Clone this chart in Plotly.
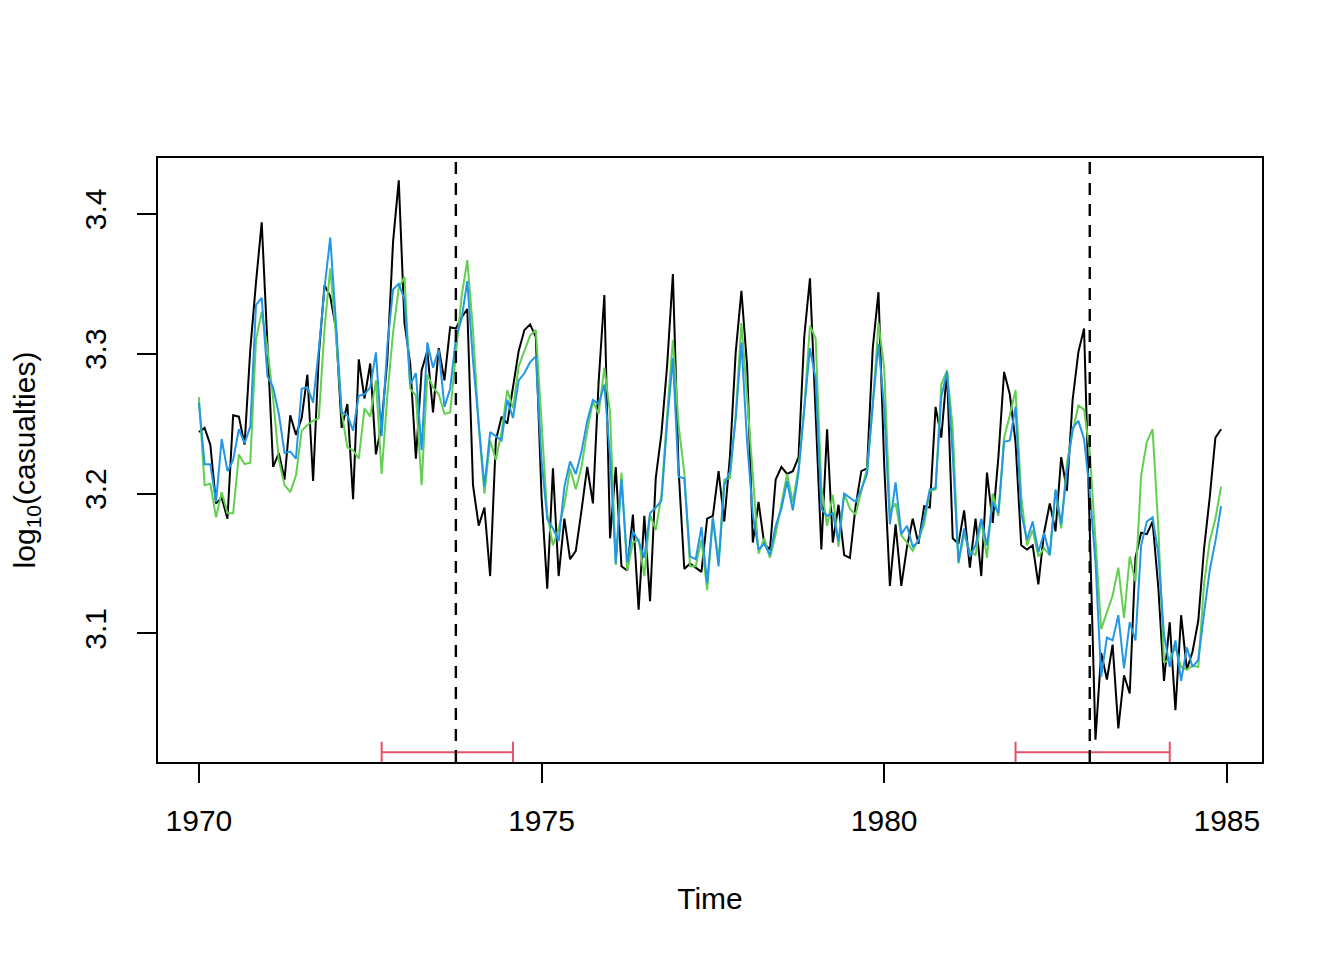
import plotly.graph_objects as go

# monthly series, Jan 1970 .. Dec 1984, one row per year
casualties = [
    3.244, 3.247, 3.235, 3.193, 3.197, 3.182, 3.256, 3.255, 3.235, 3.303, 3.351, 3.394,
    3.307, 3.219, 3.229, 3.210, 3.256, 3.242, 3.254, 3.285, 3.209, 3.299, 3.349, 3.341,
    3.318, 3.247, 3.264, 3.196, 3.296, 3.268, 3.293, 3.228, 3.250, 3.296, 3.380, 3.424,
    3.322, 3.293, 3.225, 3.288, 3.302, 3.258, 3.304, 3.281, 3.319, 3.318, 3.326, 3.332,
    3.206, 3.177, 3.190, 3.141, 3.238, 3.255, 3.250, 3.276, 3.302, 3.317, 3.321, 3.312,
    3.198, 3.132, 3.218, 3.141, 3.182, 3.153, 3.159, 3.188, 3.219, 3.193, 3.280, 3.342,
    3.168, 3.219, 3.148, 3.145, 3.185, 3.117, 3.184, 3.123, 3.211, 3.243, 3.292, 3.357,
    3.217, 3.146, 3.150, 3.147, 3.144, 3.182, 3.184, 3.216, 3.180, 3.227, 3.301, 3.345,
    3.291, 3.165, 3.194, 3.164, 3.160, 3.210, 3.219, 3.214, 3.216, 3.226, 3.312, 3.354,
    3.258, 3.160, 3.246, 3.165, 3.192, 3.156, 3.154, 3.191, 3.216, 3.218, 3.304, 3.344,
    3.221, 3.134, 3.178, 3.134, 3.162, 3.182, 3.164, 3.191, 3.190, 3.262, 3.240, 3.288,
    3.168, 3.164, 3.188, 3.147, 3.182, 3.141, 3.215, 3.179, 3.226, 3.287, 3.271, 3.237,
    3.163, 3.160, 3.163, 3.135, 3.172, 3.193, 3.173, 3.226, 3.202, 3.267, 3.301, 3.318,
    3.174, 3.024, 3.086, 3.067, 3.092, 3.032, 3.070, 3.057, 3.154, 3.172, 3.171, 3.180,
    3.133, 3.066, 3.108, 3.045, 3.113, 3.074, 3.087, 3.109, 3.160, 3.197, 3.240, 3.246,
]

# fitted values, model without breaks
fit_nobreak = [
    3.269, 3.206, 3.207, 3.183, 3.201, 3.186, 3.186, 3.228, 3.221, 3.222, 3.310, 3.330,
    3.304, 3.268, 3.224, 3.206, 3.201, 3.213, 3.245, 3.249, 3.252, 3.254, 3.318, 3.361,
    3.313, 3.258, 3.233, 3.231, 3.225, 3.261, 3.255, 3.281, 3.214, 3.270, 3.315, 3.347,
    3.355, 3.275, 3.270, 3.206, 3.285, 3.276, 3.271, 3.257, 3.258, 3.298, 3.341, 3.367,
    3.317, 3.248, 3.200, 3.238, 3.224, 3.244, 3.274, 3.261, 3.291, 3.302, 3.313, 3.317,
    3.249, 3.185, 3.163, 3.175, 3.192, 3.218, 3.203, 3.219, 3.245, 3.266, 3.257, 3.290,
    3.258, 3.149, 3.215, 3.145, 3.165, 3.167, 3.141, 3.185, 3.174, 3.199, 3.257, 3.310,
    3.249, 3.215, 3.148, 3.148, 3.167, 3.131, 3.182, 3.152, 3.210, 3.211, 3.256, 3.322,
    3.269, 3.210, 3.157, 3.168, 3.154, 3.171, 3.194, 3.214, 3.194, 3.218, 3.261, 3.320,
    3.311, 3.205, 3.177, 3.199, 3.162, 3.200, 3.189, 3.185, 3.202, 3.218, 3.263, 3.322,
    3.290, 3.187, 3.193, 3.170, 3.165, 3.159, 3.167, 3.178, 3.202, 3.203, 3.278, 3.288,
    3.247, 3.150, 3.171, 3.159, 3.156, 3.181, 3.154, 3.200, 3.184, 3.240, 3.256, 3.274,
    3.198, 3.163, 3.174, 3.155, 3.161, 3.156, 3.202, 3.175, 3.222, 3.244, 3.263, 3.260,
    3.230, 3.166, 3.103, 3.115, 3.127, 3.147, 3.111, 3.155, 3.137, 3.213, 3.237, 3.246,
    3.176, 3.079, 3.082, 3.090, 3.076, 3.074, 3.077, 3.076, 3.135, 3.166, 3.182, 3.205,
]

# fitted values, segmented model (2 breaks)
fit_breaks = [
    3.265, 3.221, 3.221, 3.194, 3.239, 3.216, 3.224, 3.246, 3.236, 3.248, 3.335, 3.340,
    3.284, 3.276, 3.257, 3.229, 3.230, 3.225, 3.275, 3.276, 3.265, 3.303, 3.347, 3.383,
    3.322, 3.258, 3.256, 3.245, 3.270, 3.271, 3.276, 3.301, 3.241, 3.306, 3.346, 3.350,
    3.339, 3.278, 3.286, 3.231, 3.308, 3.290, 3.303, 3.262, 3.275, 3.311, 3.325, 3.352,
    3.295, 3.251, 3.205, 3.244, 3.241, 3.238, 3.267, 3.254, 3.281, 3.286, 3.294, 3.298,
    3.224, 3.182, 3.175, 3.166, 3.205, 3.223, 3.214, 3.230, 3.252, 3.267, 3.264, 3.278,
    3.226, 3.150, 3.210, 3.151, 3.173, 3.166, 3.154, 3.186, 3.190, 3.195, 3.251, 3.297,
    3.212, 3.211, 3.155, 3.153, 3.176, 3.136, 3.183, 3.148, 3.206, 3.216, 3.254, 3.308,
    3.237, 3.185, 3.160, 3.164, 3.156, 3.177, 3.189, 3.209, 3.188, 3.215, 3.260, 3.304,
    3.282, 3.189, 3.184, 3.186, 3.166, 3.200, 3.197, 3.194, 3.203, 3.214, 3.264, 3.307,
    3.261, 3.178, 3.208, 3.171, 3.177, 3.162, 3.166, 3.183, 3.203, 3.204, 3.269, 3.287,
    3.228, 3.151, 3.175, 3.155, 3.163, 3.182, 3.163, 3.194, 3.186, 3.237, 3.238, 3.262,
    3.186, 3.167, 3.180, 3.158, 3.172, 3.156, 3.203, 3.178, 3.216, 3.247, 3.252, 3.239,
    3.201, 3.151, 3.069, 3.097, 3.095, 3.113, 3.075, 3.108, 3.095, 3.163, 3.180, 3.183,
    3.157, 3.099, 3.076, 3.095, 3.066, 3.090, 3.076, 3.081, 3.114, 3.145, 3.166, 3.191,
]

start_year = 1970
time = [start_year + i / 12 for i in range(len(casualties))]

breakdates = [1973.75, 1983.0]          # 1973(10), 1983(1)
ci_lower = [1972.667, 1981.917]         # 1972(9), 1981(12)
ci_upper = [1974.583, 1984.167]         # 1974(8), 1984(3)

x_ticks = [1970, 1975, 1980, 1985]
y_ticks = [3.1, 3.2, 3.3, 3.4]

FONT = "Liberation Sans, Arial, Helvetica, sans-serif"
RED = "#DF536B"

fig = go.Figure()
fig.add_trace(go.Scatter(x=time, y=casualties, mode="lines",
                         line=dict(color="black", width=2)))
fig.add_trace(go.Scatter(x=time, y=fit_nobreak, mode="lines",
                         line=dict(color="#61D04F", width=2)))
fig.add_trace(go.Scatter(x=time, y=fit_breaks, mode="lines",
                         line=dict(color="#2297E6", width=2)))

for bd in breakdates:
    fig.add_vline(x=bd, line=dict(color="black", width=2.4, dash="12px,9px"), layer="above")

# confidence intervals for the breakpoints, drawn near the bottom like lines(ci)
ci_at = 3.015
fig.add_trace(go.Scatter(
    x=breakdates, y=[ci_at] * len(breakdates), mode="markers",
    marker=dict(opacity=0, size=1),
    error_x=dict(type="data", symmetric=False,
                 array=[u - b for u, b in zip(ci_upper, breakdates)],
                 arrayminus=[b - l for l, b in zip(ci_lower, breakdates)],
                 color=RED, thickness=2, width=10.5)))

xr = [1970 - 0.04 * (time[-1] - time[0]), time[-1] + 0.04 * (time[-1] - time[0])]
ylo, yhi = min(casualties), max(casualties)
yr = [ylo - 0.04 * (yhi - ylo), yhi + 0.04 * (yhi - ylo)]

axis_common = dict(showgrid=False, zeroline=False, showline=True, mirror=True,
                   linecolor="black", linewidth=2, ticks="outside", ticklen=19,
                   tickwidth=2, tickcolor="black",
                   tickfont=dict(family=FONT, size=30, color="black"))

fig.update_xaxes(range=xr, tickvals=x_ticks, ticktext=[str(v) for v in x_ticks],
                 ticklabelstandoff=12,
                 title=dict(text="Time", font=dict(family=FONT, size=30, color="black"),
                            standoff=52),
                 **axis_common)
fig.update_yaxes(range=yr, tickvals=y_ticks, ticktext=[str(v) for v in y_ticks],
                 tickangle=-90, ticklabelstandoff=19,
                 title=dict(text="log<sub>10</sub>(casualties)",
                            font=dict(family=FONT, size=30, color="black"), standoff=46),
                 **axis_common)

# page body adds ~7px offset, so margins are trimmed to land the plot box at 157..1263 x 157..763
fig.update_layout(width=1344, height=960, showlegend=False,
                  margin=dict(l=150, r=90, t=150, b=206, autoexpand=False),
                  plot_bgcolor="white", paper_bgcolor="white")

fig.write_html("out.html")
